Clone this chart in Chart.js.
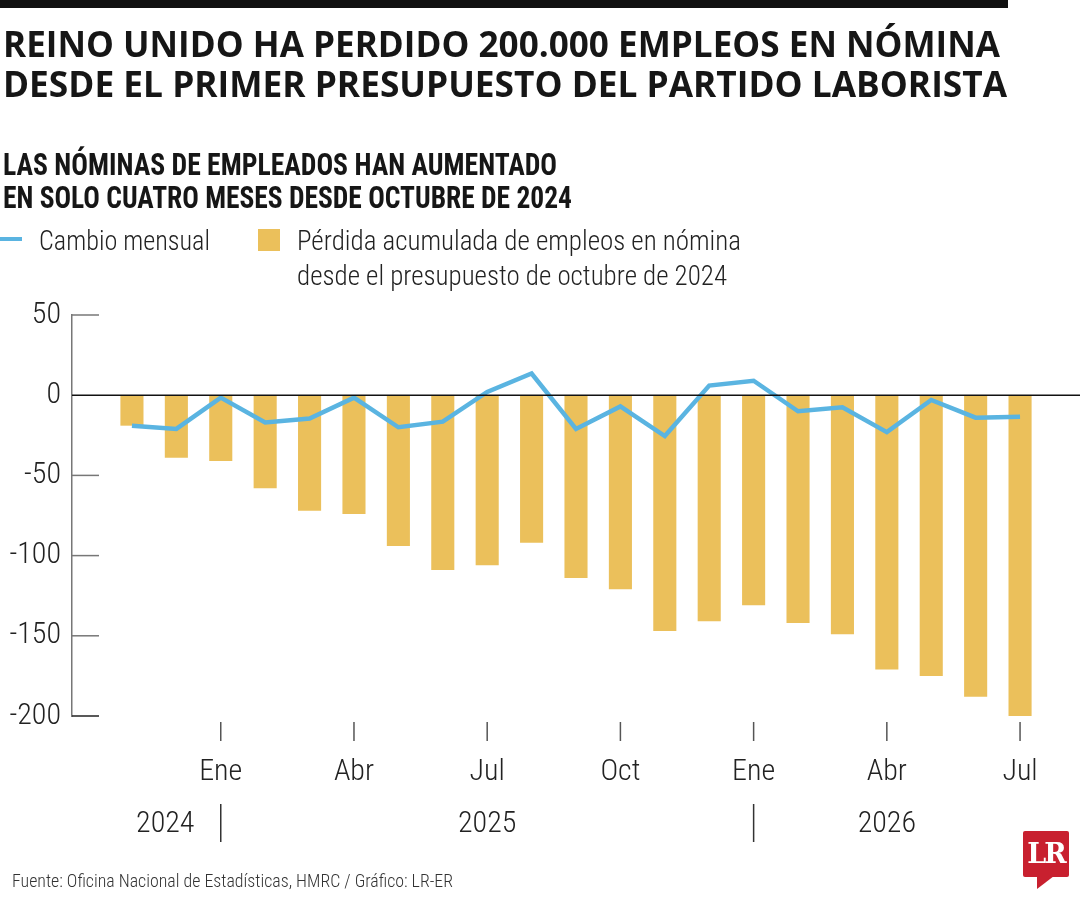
<!DOCTYPE html>
<html><head><meta charset="utf-8">
<script src="https://cdn.jsdelivr.net/npm/chart.js@4.4.1/dist/chart.umd.min.js"></script>
<style>
html,body{margin:0;padding:0;background:#fff;}
#wrap{position:relative;width:1080px;height:900px;overflow:hidden;background:#fff;}
.t{position:absolute;white-space:nowrap;transform-origin:0 0;color:#161616;line-height:1;margin:0;}
#c{position:absolute;left:0;top:0;}
</style></head><body>
<div id="wrap">
<div style="position:absolute;left:0;top:0;width:1008px;height:8px;background:#111"></div>
<canvas id="c" width="1080" height="900"></canvas>
<div style="position:absolute;left:0;top:237px;width:22px;height:4px;background:#5AB4E1"></div>
<div style="position:absolute;left:258px;top:229px;width:22px;height:22px;background:#EBC05B"></div>
<div style="position:absolute;left:1023px;top:831px;width:46px;height:46px;background:#C8202F;border-radius:2px"></div>
<div style="position:absolute;left:1037px;top:876px;width:0;height:0;border-top:13px solid #C8202F;border-right:17px solid transparent"></div>
<div id="lr" style="position:absolute;left:1023px;top:838px;width:46px;text-align:center;color:#fff;font:bold 27px 'DejaVu Serif','Liberation Serif',serif;letter-spacing:-2px">LR</div>
</div>
<script>
// ---- data ----
const monthLabels = ['Nov','Dic','Ene','Feb','Mar','Abr','May','Jun','Jul','Ago','Sep','Oct','Nov','Dic','Ene','Feb','Mar','Abr','May','Jun','Jul'];
const cumulativeLoss = [-19,-39,-41,-58,-72,-74,-94,-109,-106,-92,-114,-121,-147,-141,-131,-142,-149,-171,-175,-188,-200];
const monthlyChange = [-19,-21,-1.5,-17,-14.5,-1.5,-20,-16.5,2,13.5,-21,-7,-25.5,6,9,-10,-7.5,-23,-3,-14,-13.5];
const xTickIndex = [2,5,8,11,14,17,20];
const yTickValues = [50,0,-50,-100,-150,-200];
const yearLabels = ['2024','2025','2026'];
const yearIndex = [0.75,8,17];
const yearBreakIndex = [2,14];

// ---- fonts ----
const TITLE_FAM = '"Open Sans", "Noto Sans", sans-serif';
const SUB_FAM = '"Roboto Condensed", "DejaVu Sans Condensed", sans-serif';
const BODY_FAM = '"Roboto Condensed", "DejaVu Sans Condensed", sans-serif';

// ---- HTML texts ----
const mc=document.createElement('canvas').getContext('2d');
function place(txt,left,base,size,weight,right,fam,color){
  const d=document.createElement('div');
  d.className='t'; d.textContent=txt;
  d.style.fontFamily=fam; d.style.fontSize=size+'px'; d.style.fontWeight=weight;
  if(color) d.style.color=color;
  mc.font=weight+' '+size+'px '+fam;
  const m=mc.measureText(txt);
  const A=m.fontBoundingBoxAscent, D=m.fontBoundingBoxDescent;
  const off=(size-(A+D))/2+A;
  d.style.left=left+'px'; d.style.top=(base-off)+'px';
  const sx=(right-left)/m.width;
  d.style.transform='scaleX('+sx+')';
  document.getElementById('wrap').appendChild(d);
}
place('REINO UNIDO HA PERDIDO 200.000 EMPLEOS EN NÓMINA',3,57,35,'700',1000,TITLE_FAM);
place('DESDE EL PRIMER PRESUPUESTO DEL PARTIDO LABORISTA',3,97,35,'700',1007,TITLE_FAM);
place('LAS NÓMINAS DE EMPLEADOS HAN AUMENTADO',3,175,32,'bold',557,SUB_FAM);
place('EN SOLO CUATRO MESES DESDE OCTUBRE DE 2024',3,208,32,'bold',572,SUB_FAM);
place('Cambio mensual',39,250,28,'300',210,BODY_FAM,'#222');
place('Pérdida acumulada de empleos en nómina',297,250,28,'300',741,BODY_FAM,'#222');
place('desde el presupuesto de octubre de 2024',297,285,28,'300',727,BODY_FAM,'#222');
place('Fuente: Oficina Nacional de Estadísticas, HMRC / Gráfico: LR-ER',12,887,18,'300',453,BODY_FAM,'#333');

// ---- chart ----
const axisPlugin={
  id:'axisDeco',
  afterDatasetsDraw(chart){
    const {ctx,chartArea:a,scales:{x,y}}=chart;
    ctx.save();
    const y0=y.getPixelForValue(0);
    ctx.strokeStyle='#111'; ctx.lineWidth=1.5;
    ctx.beginPath(); ctx.moveTo(a.left,y0); ctx.lineTo(a.right,y0); ctx.stroke();
    yTickValues.forEach(v=>{
      if(v===0) return;
      const py=y.getPixelForValue(v);
      ctx.strokeStyle = v===-200 ? '#222' : '#777';
      ctx.beginPath(); ctx.moveTo(a.left,py); ctx.lineTo(a.left+27,py); ctx.stroke();
    });
    ctx.strokeStyle='#555'; ctx.lineWidth=1.5;
    xTickIndex.forEach(i=>{
      const px=x.getPixelForValue(i);
      ctx.beginPath(); ctx.moveTo(px,a.bottom+6); ctx.lineTo(px,a.bottom+25); ctx.stroke();
    });
    ctx.strokeStyle='#333';
    yearBreakIndex.forEach(i=>{
      const px=x.getPixelForValue(i);
      ctx.beginPath(); ctx.moveTo(px,a.bottom+88); ctx.lineTo(px,a.bottom+126); ctx.stroke();
    });
    ctx.fillStyle='#222'; ctx.font='300 30px '+BODY_FAM; ctx.textAlign='center'; ctx.textBaseline='middle';
    yearLabels.forEach((t,k)=>{ ctx.fillText(t,x.getPixelForValue(yearIndex[k]),a.bottom+108); });
    ctx.restore();
  }
};

const barData=cumulativeLoss.map((v,i)=>({x:i,y:v}));
const lineData=monthlyChange.map((v,i)=>({x:i,y:v}));

new Chart(document.getElementById('c'),{
  data:{datasets:[
    {type:'line',label:'Cambio mensual',data:lineData,borderColor:'#5AB4E1',borderWidth:4.5,pointRadius:0,tension:0,order:0},
    {type:'bar',label:'Pérdida acumulada',data:barData,backgroundColor:'#EBC05B',categoryPercentage:1,barPercentage:0.52,order:1}
  ]},
  options:{
    responsive:false,animation:false,devicePixelRatio:1,
    layout:{padding:{left:0,right:0,top:315,bottom:0}},
    plugins:{legend:{display:false},tooltip:{enabled:false},title:{display:false}},
    scales:{
      x:{type:'linear',min:-1.35,max:21.35,offset:false,
        grid:{display:false,drawTicks:false},border:{display:false},
        afterFit(s){s.height=184;},
        afterBuildTicks(s){s.ticks=xTickIndex.map(v=>({value:v}));},
        ticks:{autoSkip:false,maxRotation:0,padding:38,color:'#222',font:{family:BODY_FAM,size:30,weight:'300'},
          callback:(v)=>monthLabels[v]}
      },
      y:{type:'linear',min:-200,max:50,
        grid:{display:false,drawTicks:false},
        border:{display:true,color:'#777',width:1.5},
        afterFit(s){s.width=72;},
        afterBuildTicks(s){s.ticks=yTickValues.map(v=>({value:v}));},
        ticks:{padding:11,color:'#222',font:{family:BODY_FAM,size:30,weight:'300'},callback:(v)=>String(v)}
      }
    }
  },
  plugins:[axisPlugin]
});
</script>
</body></html>
